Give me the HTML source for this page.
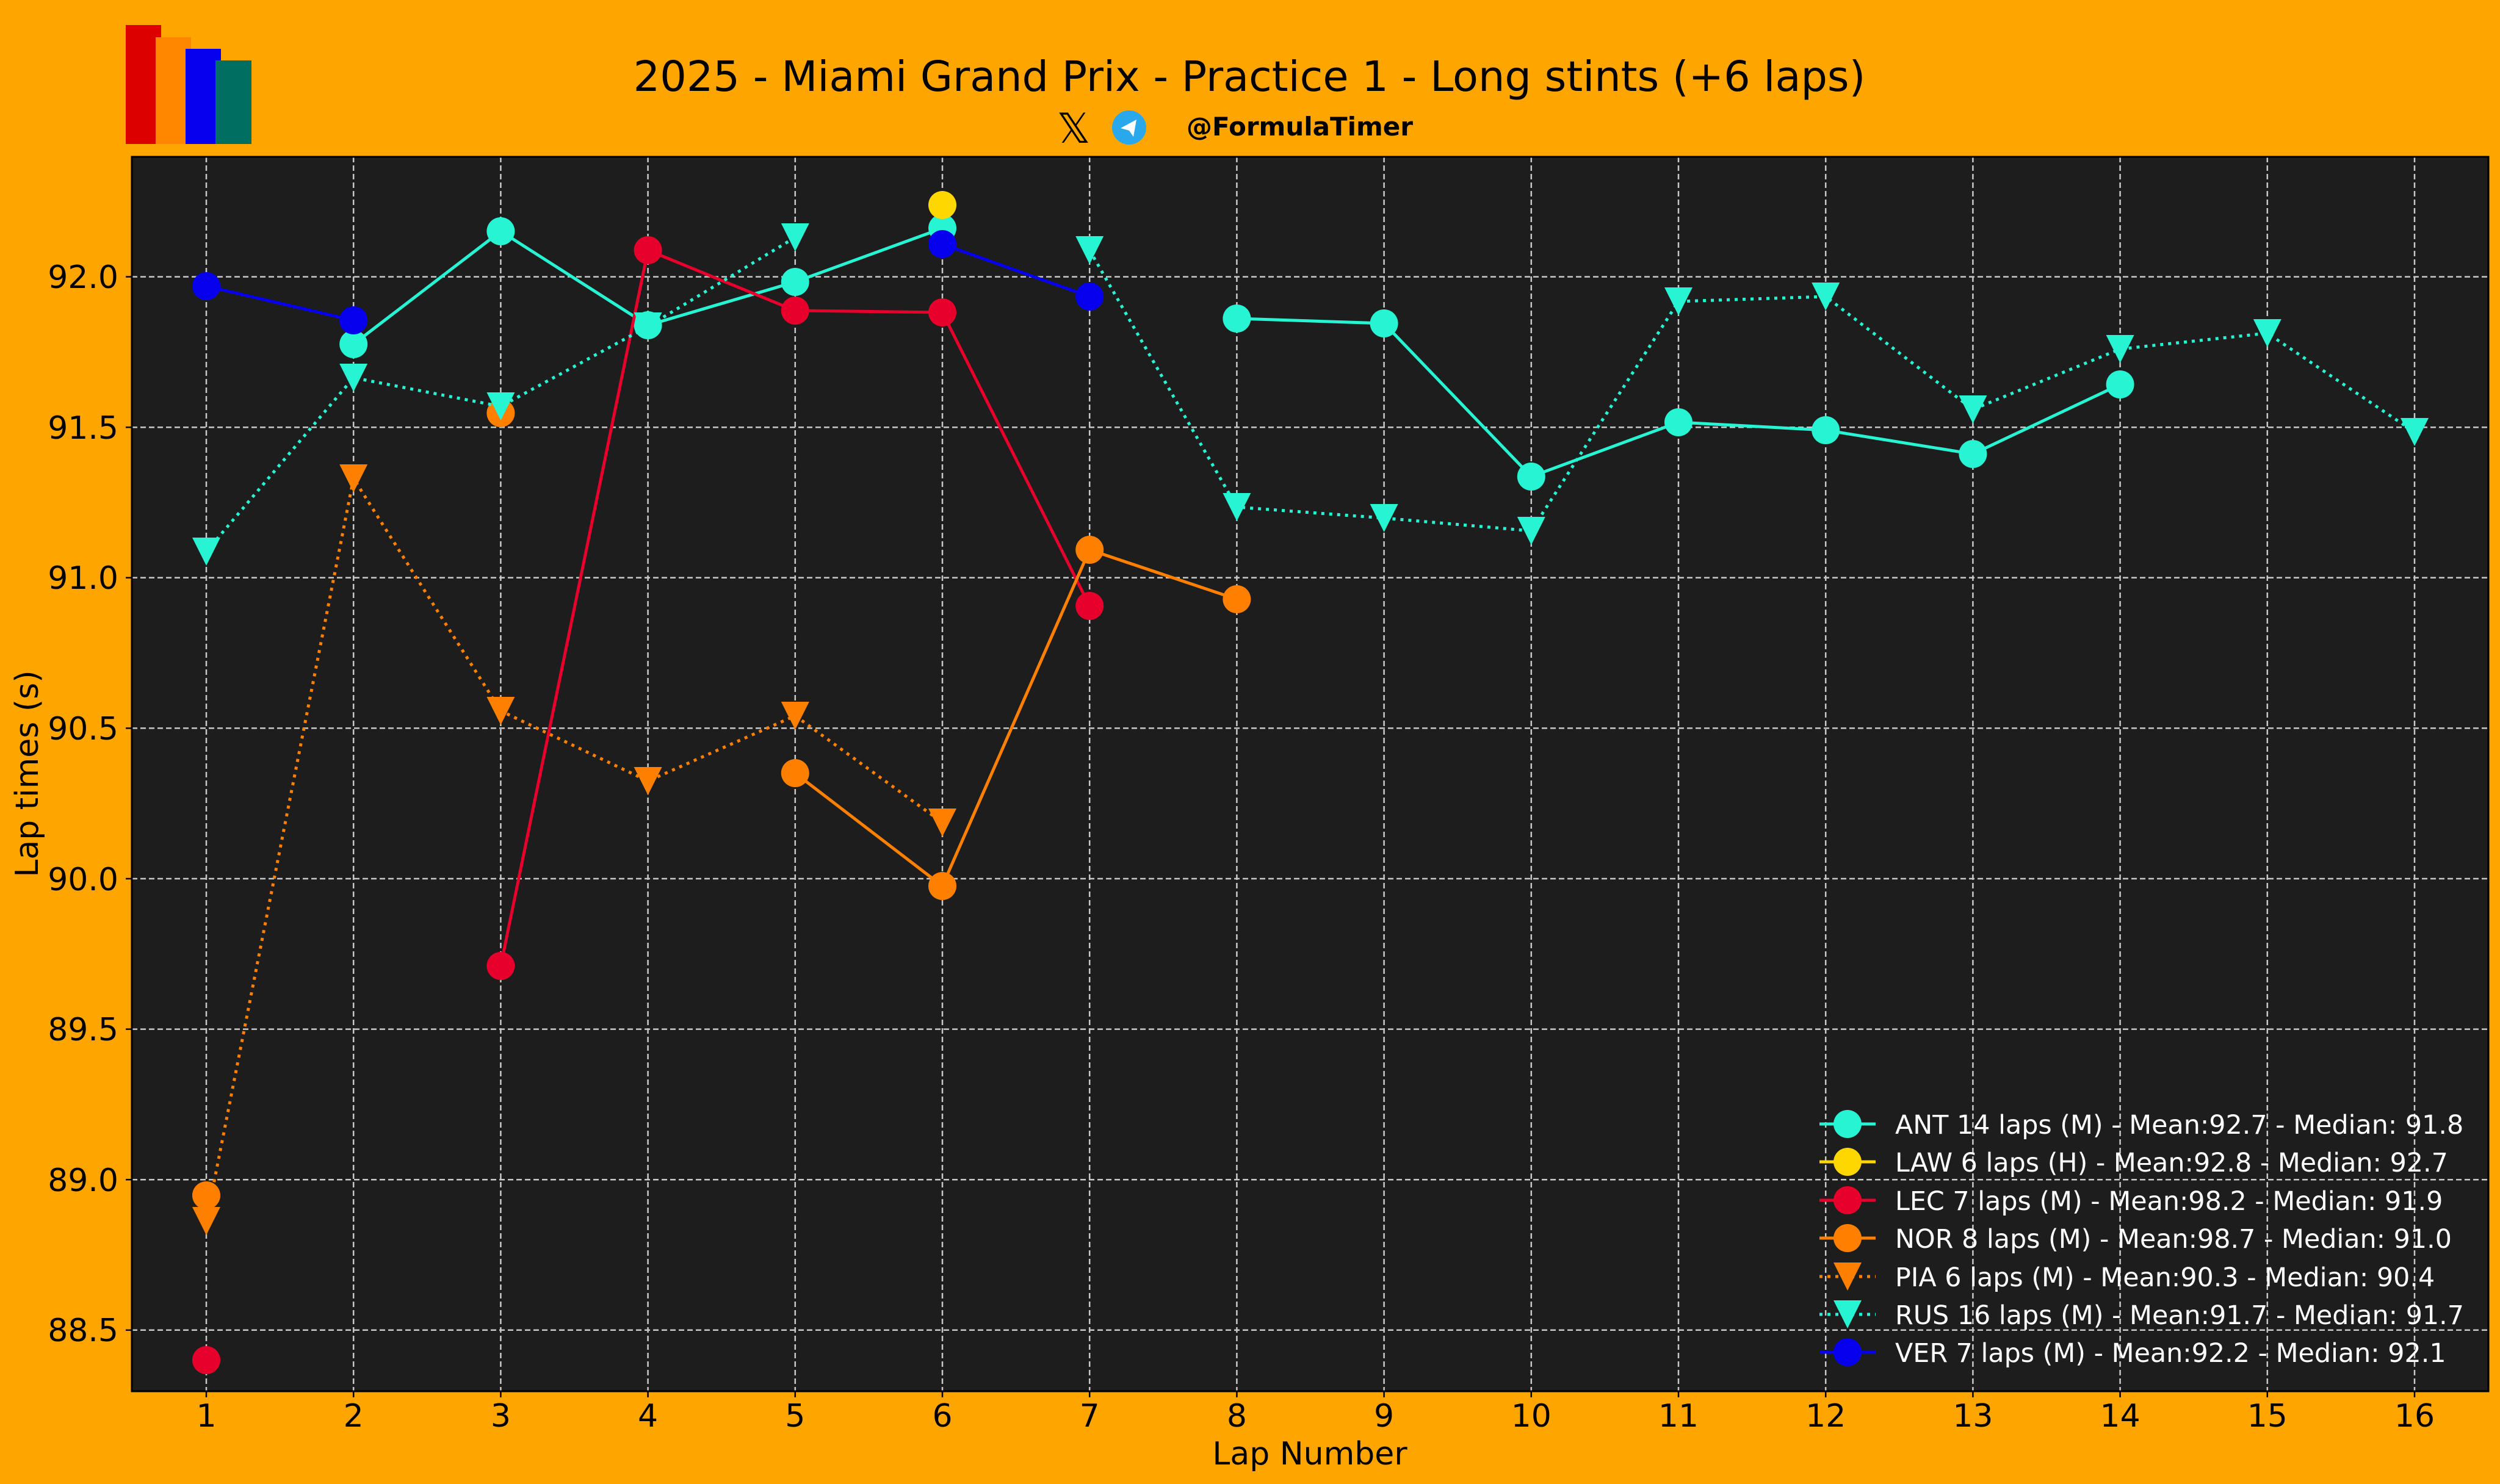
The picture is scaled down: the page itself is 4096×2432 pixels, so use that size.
<!DOCTYPE html>
<html><head><meta charset="utf-8"><style>
html,body{margin:0;padding:0;background:#FFA500;}
svg{display:block;font-family:"DejaVu Sans","Liberation Sans",sans-serif;}
</style></head><body>
<svg width="4096" height="2432" viewBox="0 0 4096 2432" xmlns="http://www.w3.org/2000/svg">
<rect width="4096" height="2432" fill="#FFA500"/>
<rect x="206" y="41" width="58" height="195" fill="#DC0000"/>
<rect x="255" y="61" width="58" height="175" fill="#FF8700"/>
<rect x="304" y="80" width="58" height="156" fill="#0600EF"/>
<rect x="353" y="99" width="59" height="137" fill="#006F62"/>
<text x="2047" y="149" font-size="68.5" text-anchor="middle" fill="#000">2025 - Miami Grand Prix - Practice 1 - Long stints (+6 laps)</text>
<text x="1759" y="234" font-size="68" text-anchor="middle" fill="#000">𝕏</text>
<circle cx="1850" cy="209" r="28" fill="#29A9EB"/>
<path d="M1836 210 L1862 196 L1857 224 L1850 214 Z" fill="#fff"/>
<text x="1944" y="222" font-size="42" font-weight="bold" fill="#000">@FormulaTimer</text>
<rect x="216" y="257" width="3861" height="2023" fill="#1D1D1D"/>
<g stroke="#C8C8C8" stroke-width="2.5" stroke-dasharray="9,5">
<line x1="216" x2="4077" y1="453.6" y2="453.6"/><line x1="216" x2="4077" y1="700.2" y2="700.2"/>
<line x1="216" x2="4077" y1="946.8" y2="946.8"/><line x1="216" x2="4077" y1="1193.4" y2="1193.4"/>
<line x1="216" x2="4077" y1="1440" y2="1440"/><line x1="216" x2="4077" y1="1686.6" y2="1686.6"/>
<line x1="216" x2="4077" y1="1933.2" y2="1933.2"/><line x1="216" x2="4077" y1="2179.8" y2="2179.8"/>
<line y1="257" y2="2280" x1="338" x2="338"/><line y1="257" y2="2280" x1="579.2" x2="579.2"/>
<line y1="257" y2="2280" x1="820.4" x2="820.4"/><line y1="257" y2="2280" x1="1061.6" x2="1061.6"/>
<line y1="257" y2="2280" x1="1302.8" x2="1302.8"/><line y1="257" y2="2280" x1="1544" x2="1544"/>
<line y1="257" y2="2280" x1="1785.2" x2="1785.2"/><line y1="257" y2="2280" x1="2026.4" x2="2026.4"/>
<line y1="257" y2="2280" x1="2267.6" x2="2267.6"/><line y1="257" y2="2280" x1="2508.8" x2="2508.8"/>
<line y1="257" y2="2280" x1="2750" x2="2750"/><line y1="257" y2="2280" x1="2991.2" x2="2991.2"/>
<line y1="257" y2="2280" x1="3232.4" x2="3232.4"/><line y1="257" y2="2280" x1="3473.6" x2="3473.6"/>
<line y1="257" y2="2280" x1="3714.8" x2="3714.8"/><line y1="257" y2="2280" x1="3956" x2="3956"/>
</g>
<g stroke="#27F4D2" stroke-width="5" fill="none">
<polyline points="579.2,564 820.4,379 1061.6,533 1302.8,462 1544,374"/>
<polyline points="2026.4,522 2267.6,530 2508.8,781 2750,692 2991.2,705 3232.4,744 3473.6,630"/>
</g>
<g fill="#27F4D2">
<circle cx="579.2" cy="564" r="23"/><circle cx="820.4" cy="379" r="23"/><circle cx="1061.6" cy="533" r="23"/><circle cx="1302.8" cy="462" r="23"/><circle cx="1544" cy="374" r="23"/>
<circle cx="2026.4" cy="522" r="23"/><circle cx="2267.6" cy="530" r="23"/><circle cx="2508.8" cy="781" r="23"/><circle cx="2750" cy="692" r="23"/><circle cx="2991.2" cy="705" r="23"/><circle cx="3232.4" cy="744" r="23"/><circle cx="3473.6" cy="630" r="23"/>
</g>
<circle cx="1544" cy="336" r="23" fill="#FFD700"/>
<polyline points="820.4,1583 1061.6,410 1302.8,509 1544,512 1785.2,993" stroke="#E8002D" stroke-width="5" fill="none"/>
<g fill="#E8002D">
<circle cx="338" cy="2229" r="23"/><circle cx="820.4" cy="1583" r="23"/><circle cx="1061.6" cy="410" r="23"/><circle cx="1302.8" cy="509" r="23"/><circle cx="1544" cy="512" r="23"/><circle cx="1785.2" cy="993" r="23"/>
</g>
<polyline points="1302.8,1267 1544,1452 1785.2,901 2026.4,982" stroke="#FF8000" stroke-width="5" fill="none"/>
<g fill="#FF8000">
<circle cx="338" cy="1959" r="23"/><circle cx="820.4" cy="677" r="23"/><circle cx="1302.8" cy="1267" r="23"/><circle cx="1544" cy="1452" r="23"/><circle cx="1785.2" cy="901" r="23"/><circle cx="2026.4" cy="982" r="23"/>
</g>
<polyline points="338,2001 579.2,784 820.4,1165 1061.6,1280 1302.8,1173 1544,1348" stroke="#FF8000" stroke-width="5" stroke-dasharray="5,8" fill="none"/>
<g fill="#FF8000">
<path d="M315,1978 h46 l-23,46z"/><path d="M556.2,761 h46 l-23,46z"/><path d="M797.4,1142 h46 l-23,46z"/><path d="M1038.6,1257 h46 l-23,46z"/><path d="M1279.8,1150 h46 l-23,46z"/><path d="M1521,1325 h46 l-23,46z"/>
</g>
<g stroke="#27F4D2" stroke-width="5" stroke-dasharray="5,8" fill="none">
<polyline points="338,904 579.2,619 820.4,666 1061.6,535 1302.8,389"/>
<polyline points="1785.2,410 2026.4,831 2267.6,849 2508.8,870 2750,494 2991.2,486 3232.4,671 3473.6,572 3714.8,546 3956,708"/>
</g>
<g fill="#27F4D2">
<path d="M315,881 h46 l-23,46z"/><path d="M556.2,596 h46 l-23,46z"/><path d="M797.4,643 h46 l-23,46z"/><path d="M1038.6,512 h46 l-23,46z"/><path d="M1279.8,366 h46 l-23,46z"/>
<path d="M1762.2,387 h46 l-23,46z"/><path d="M2003.4,808 h46 l-23,46z"/><path d="M2244.6,826 h46 l-23,46z"/><path d="M2485.8,847 h46 l-23,46z"/><path d="M2727,471 h46 l-23,46z"/><path d="M2968.2,463 h46 l-23,46z"/><path d="M3209.4,648 h46 l-23,46z"/><path d="M3450.6,549 h46 l-23,46z"/><path d="M3691.8,523 h46 l-23,46z"/><path d="M3933,685 h46 l-23,46z"/>
</g>
<g stroke="#0600EF" stroke-width="5" fill="none">
<polyline points="338,469 579.2,525"/><polyline points="1544,400 1785.2,486"/>
</g>
<g fill="#0600EF">
<circle cx="338" cy="469" r="23"/><circle cx="579.2" cy="525" r="23"/><circle cx="1544" cy="400" r="23"/><circle cx="1785.2" cy="486" r="23"/>
</g>
<rect x="216" y="257" width="3861" height="2023" fill="none" stroke="#000" stroke-width="3"/>
<g stroke="#000" stroke-width="2.5">
<line x1="206" x2="216" y1="453.6" y2="453.6"/><line x1="206" x2="216" y1="700.2" y2="700.2"/><line x1="206" x2="216" y1="946.8" y2="946.8"/><line x1="206" x2="216" y1="1193.4" y2="1193.4"/><line x1="206" x2="216" y1="1440" y2="1440"/><line x1="206" x2="216" y1="1686.6" y2="1686.6"/><line x1="206" x2="216" y1="1933.2" y2="1933.2"/><line x1="206" x2="216" y1="2179.8" y2="2179.8"/>
<line y1="2280" y2="2290" x1="338" x2="338"/><line y1="2280" y2="2290" x1="579.2" x2="579.2"/><line y1="2280" y2="2290" x1="820.4" x2="820.4"/><line y1="2280" y2="2290" x1="1061.6" x2="1061.6"/><line y1="2280" y2="2290" x1="1302.8" x2="1302.8"/><line y1="2280" y2="2290" x1="1544" x2="1544"/><line y1="2280" y2="2290" x1="1785.2" x2="1785.2"/><line y1="2280" y2="2290" x1="2026.4" x2="2026.4"/><line y1="2280" y2="2290" x1="2267.6" x2="2267.6"/><line y1="2280" y2="2290" x1="2508.8" x2="2508.8"/><line y1="2280" y2="2290" x1="2750" x2="2750"/><line y1="2280" y2="2290" x1="2991.2" x2="2991.2"/><line y1="2280" y2="2290" x1="3232.4" x2="3232.4"/><line y1="2280" y2="2290" x1="3473.6" x2="3473.6"/><line y1="2280" y2="2290" x1="3714.8" x2="3714.8"/><line y1="2280" y2="2290" x1="3956" x2="3956"/>
</g>
<g font-size="52" fill="#000" text-anchor="end">
<text x="194" y="472">92.0</text><text x="194" y="719">91.5</text><text x="194" y="965">91.0</text><text x="194" y="1212">90.5</text><text x="194" y="1459">90.0</text><text x="194" y="1705">89.5</text><text x="194" y="1952">89.0</text><text x="194" y="2198">88.5</text>
</g>
<g font-size="52" fill="#000" text-anchor="middle">
<text x="338" y="2338">1</text><text x="579.2" y="2338">2</text><text x="820.4" y="2338">3</text><text x="1061.6" y="2338">4</text><text x="1302.8" y="2338">5</text><text x="1544" y="2338">6</text><text x="1785.2" y="2338">7</text><text x="2026.4" y="2338">8</text><text x="2267.6" y="2338">9</text><text x="2508.8" y="2338">10</text><text x="2750" y="2338">11</text><text x="2991.2" y="2338">12</text><text x="3232.4" y="2338">13</text><text x="3473.6" y="2338">14</text><text x="3714.8" y="2338">15</text><text x="3956" y="2338">16</text>
</g>
<text x="2146" y="2400" font-size="52" text-anchor="middle" fill="#000">Lap Number</text>
<text transform="translate(62,1268) rotate(-90)" font-size="52" text-anchor="middle" fill="#000">Lap times (s)</text>
<g stroke-width="5">
<line x1="2981" x2="3073" y1="1842" y2="1842" stroke="#27F4D2"/>
<line x1="2981" x2="3073" y1="1904" y2="1904" stroke="#FFD700"/>
<line x1="2981" x2="3073" y1="1967" y2="1967" stroke="#E8002D"/>
<line x1="2981" x2="3073" y1="2029" y2="2029" stroke="#FF8000"/>
<line x1="2981" x2="3073" y1="2092" y2="2092" stroke="#FF8000" stroke-dasharray="5,8"/>
<line x1="2981" x2="3073" y1="2154" y2="2154" stroke="#27F4D2" stroke-dasharray="5,8"/>
<line x1="2981" x2="3073" y1="2216" y2="2216" stroke="#0600EF"/>
</g>
<circle cx="3027" cy="1842" r="23" fill="#27F4D2"/>
<circle cx="3027" cy="1904" r="23" fill="#FFD700"/>
<circle cx="3027" cy="1967" r="23" fill="#E8002D"/>
<circle cx="3027" cy="2029" r="23" fill="#FF8000"/>
<path d="M3004,2069 h46 l-23,46z" fill="#FF8000"/>
<path d="M3004,2131 h46 l-23,46z" fill="#27F4D2"/>
<circle cx="3027" cy="2216" r="23" fill="#0600EF"/>
<g font-size="42.8" fill="#fff">
<text x="3105" y="1858">ANT 14 laps (M) - Mean:92.7 - Median: 91.8</text>
<text x="3105" y="1920">LAW 6 laps (H) - Mean:92.8 - Median: 92.7</text>
<text x="3105" y="1983">LEC 7 laps (M) - Mean:98.2 - Median: 91.9</text>
<text x="3105" y="2045">NOR 8 laps (M) - Mean:98.7 - Median: 91.0</text>
<text x="3105" y="2108">PIA 6 laps (M) - Mean:90.3 - Median: 90.4</text>
<text x="3105" y="2170">RUS 16 laps (M) - Mean:91.7 - Median: 91.7</text>
<text x="3105" y="2232">VER 7 laps (M) - Mean:92.2 - Median: 92.1</text>
</g>
</svg>
</body></html>
